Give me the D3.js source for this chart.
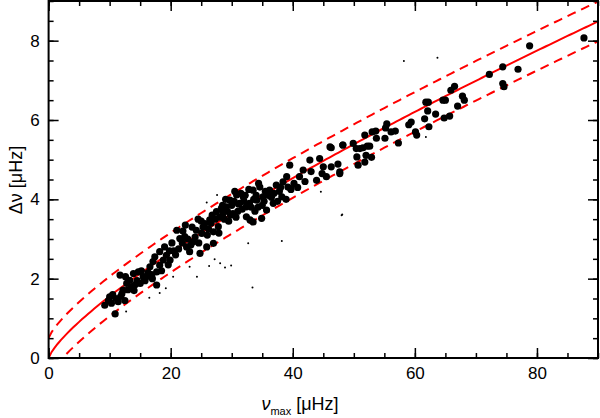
<!DOCTYPE html>
<html><head><meta charset="utf-8">
<script src="https://cdn.jsdelivr.net/npm/d3@7"></script>
<style>body{margin:0;background:#fff}svg{font-family:"DejaVu Sans",sans-serif}</style>
</head><body><svg id="c" width="600" height="418"></svg>
<script>
// numax, dnu of the stars (big dots)
var bigStars = [
  [87.7,8.07],[78.8,7.87],[76.9,7.28],[74.4,7.34],[74.4,6.92],[74.6,6.84],[72.2,7.15],
  [67.8,6.6],[68.1,6.5],[67.0,6.35],[66.5,6.85],[65.9,6.75],[65.0,6.5],[64.6,6.5],[65.7,6.1],
  [64.8,6.05],[62.2,6.45],[61.8,6.45],[62.1,6.23],[63.4,6.15],[61.6,6.03],[62.3,5.83],
  [59.4,5.95],[59.0,5.88],[60.1,5.7],[60.3,5.62],[57.3,5.42],[55.4,5.9],[55.2,5.8],[56.1,5.7],
  [56.8,5.72],[55.1,5.54],[53.7,5.54],[53.6,5.72],[53.0,5.7],[51.8,5.62],[52.2,5.34],[52.6,5.34],
  [49.9,5.41],[50.4,5.28],[51.0,5.28],[51.5,5.3],[48.2,5.37],[50.5,5.07],[52.0,5.11],[52.9,5.06],
  [50.7,4.86],[51.8,4.94],[46.3,5.3],[47.4,4.89],[47.7,4.65],[46.3,4.82],
  [9.2,1.33],[10.9,1.11],[10.0,1.54],[11.7,2.09],[12.2,1.71],[12.8,1.88],[13.3,1.96],[11.4,1.42],
  [9.8,1.45],[10.5,1.6],[11.0,1.5],[12.0,1.62],[13.0,1.72],[14.2,1.85],[15.8,1.95],[16.3,2.15],
  [13.9,2.13],[14.7,2.17],[15.5,2.05],[15.0,1.88],[16.6,2.3],[17.1,2.43],[17.7,2.17],[18.2,2.34],
  [18.8,2.47],[19.3,2.59],[17.7,1.84],[18.2,2.68],[19.9,2.47],[20.5,2.7],[19.0,2.8],[20.2,2.9],
  [21.0,3.22],[21.5,3.01],[22.3,3.06],[22.6,2.8],[23.1,2.68],[23.7,2.93],[24.2,3.22],[25.1,3.14],
  [24.8,2.64],[25.9,2.8],[25.6,3.39],[26.4,3.48],[27.0,3.18],[27.5,3.69],[27.8,3.31],[28.3,3.77],
  [27.0,2.89],[23.5,3.3],[24.5,3.5],[26.0,3.1],[28.8,3.5],[29.5,3.45],[28.0,3.55],[26.8,3.6],
  [29.1,3.81],[29.7,3.98],[30.8,4.11],[30.2,3.64],[31.3,3.9],[31.9,4.06],[32.4,3.81],[33.0,3.48],
  [33.5,4.23],[34.1,3.98],[34.6,4.31],[35.1,4.06],[35.7,3.73],[36.2,4.23],[36.8,3.9],[37.3,4.36],
  [38.2,4.06],[38.4,4.44],[39.2,4.31],[39.5,4.86],[39.0,4.57],[33.5,3.43],[34.9,3.52],[32.4,3.56],
  [30.0,3.85],[31.0,3.7],[32.0,3.95],[33.2,3.8],[34.0,4.1],[35.5,4.2],[36.5,4.05],[30.5,4.2],
  [31.5,4.15],[32.8,4.25],[29.0,4.0],[28.5,3.85],[33.8,3.7],[35.0,3.85],[37.8,4.2],[38.9,4.0],
  [41.1,4.57],[41.7,4.74],[42.8,4.99],[43.9,4.48],[45.0,4.82],[45.5,4.57],[44.4,5.03],[46.1,5.32],
  [47.7,4.69],[48.2,5.37],[42.0,4.45],[43.0,4.7],[44.8,4.65],[40.2,4.4],[40.8,4.3],
  [10.3,1.38],[11.8,1.55],[12.5,1.45],[13.6,1.8],[14.5,1.95],[15.2,2.2],[16.0,2.05],[16.9,2.1],
  [17.4,2.55],[18.5,2.2],[19.6,2.35],[20.8,2.6],[21.3,2.75],[21.9,2.9],[22.0,3.2],[22.8,3.0],
  [23.3,2.85],[24.0,3.05],[24.6,2.9],[25.3,3.3],[26.2,3.25],[26.6,3.4],[27.3,3.5],[27.9,3.15],
  [28.6,3.65],[29.3,3.7],[29.8,3.6],[30.4,3.95],[31.1,3.88],[31.7,3.75],[32.2,4.1],[32.9,3.9],
  [33.6,4.0],[34.3,3.8],[35.3,3.95],[36.0,4.1],[36.9,4.15],[37.5,3.95],[38.0,4.3],[39.7,4.25],
  [12.6,2.05],[14.0,1.7],[17.0,2.0],[19.8,2.7],[22.4,3.35],[25.0,3.45],[30.7,3.55],[34.4,4.4]
];
// outliers drawn as small dots
var smallStars = [
  [58.2,7.49],[63.7,7.57],[61.8,5.57],[48.1,3.62],[25.9,3.92],[27.6,4.11],[24.3,2.05],[26.3,2.32],
  [28.1,2.39],[28.9,2.28],[29.9,2.33],[27.2,2.49],[32.7,2.89],[38.2,2.95],[33.4,1.78],[48.0,3.6],
  [44.6,4.19],[18.2,1.64],[19.2,1.76],[16.5,1.52],[12.7,1.17],[20.4,2.05],[23.1,2.3]
];
// scaling relation dnu = a * numax^b, dashed band +- off
var relA = 0.263, relB = 0.772, bandOff = 0.5;

var svg = d3.select("#c");
var L = 48.6, R = 598, T = 1, B = 358;
var x = d3.scaleLinear().domain([0, 90]).range([L, R]);
var y = d3.scaleLinear().domain([0, 9]).range([B, T]);

svg.append("clipPath").attr("id", "cp").append("rect")
  .attr("x", L).attr("y", T).attr("width", R - L).attr("height", B - T);
var g = svg.append("g").attr("clip-path", "url(#cp)");

var nus = d3.range(0, 90.5, 0.5);
var line = d3.line().x(d => x(d[0])).y(d => y(d[1]));
[[0, null], [bandOff, "9,6"], [-bandOff, "9,6"]].forEach(function (s) {
  g.append("path")
    .datum(nus.map(n => [n, relA * Math.pow(n, relB) + s[0]]))
    .attr("d", line).attr("fill", "none").attr("stroke", "#f00")
    .attr("stroke-width", 2).attr("stroke-dasharray", s[1]);
});

g.selectAll(".big").data(bigStars).enter().append("circle")
  .attr("cx", d => x(d[0])).attr("cy", d => y(d[1])).attr("r", 3.6).attr("fill", "#000");
g.selectAll(".small").data(smallStars).enter().append("circle")
  .attr("cx", d => x(d[0])).attr("cy", d => y(d[1])).attr("r", 1).attr("fill", "#000");

// frame + ticks on all four sides (pointing inward)
var xMaj = [0, 20, 40, 60, 80], xMin = d3.range(0, 91, 5);
var yMaj = [0, 2, 4, 6, 8], yMin = d3.range(0, 9.01, 0.5);
function addAxis(gen, tr, vals, size, lab) {
  var a = svg.append("g").attr("transform", tr)
    .call(gen.tickValues(vals).tickSizeInner(size).tickSizeOuter(0).tickPadding(9)
      .tickFormat(lab ? d3.format("d") : ""));
  a.select(".domain").remove();
  a.selectAll("line").attr("stroke", "#000").attr("stroke-width", 1.5);
  a.selectAll("text").attr("font-size", 17).attr("fill", "#000")
    .attr("font-family", "Liberation Sans, sans-serif");
  return a;
}
addAxis(d3.axisBottom(x), "translate(0," + B + ")", xMaj, -10, true);
addAxis(d3.axisBottom(x), "translate(0," + B + ")", xMin, -5, false);
addAxis(d3.axisTop(x), "translate(0," + T + ")", xMaj, -10, false);
addAxis(d3.axisTop(x), "translate(0," + T + ")", xMin, -5, false);
addAxis(d3.axisLeft(y), "translate(" + L + ",0)", yMaj, -10, true);
addAxis(d3.axisLeft(y), "translate(" + L + ",0)", yMin, -5, false);
addAxis(d3.axisRight(y), "translate(" + R + ",0)", yMaj, -10, false);
addAxis(d3.axisRight(y), "translate(" + R + ",0)", yMin, -5, false);
svg.append("rect").attr("x", L).attr("y", T).attr("width", R - L).attr("height", B - T)
  .attr("fill", "none").attr("stroke", "#000").attr("stroke-width", 2);

var xl = svg.append("text").attr("x", 300).attr("y", 410).attr("text-anchor", "middle")
  .attr("font-size", 18).attr("font-family", "Liberation Sans, sans-serif");
xl.append("tspan").attr("font-style", "italic").text("ν");
xl.append("tspan").attr("font-size", 11).attr("dy", 5).text("max");
xl.append("tspan").attr("dy", -5).text(" [μHz]");
svg.append("text").attr("transform", "translate(22,180) rotate(-90)")
  .attr("text-anchor", "middle").attr("font-size", 18)
  .attr("font-family", "Liberation Sans, sans-serif")
  .text("Δν [μHz]");
</script></body></html>
